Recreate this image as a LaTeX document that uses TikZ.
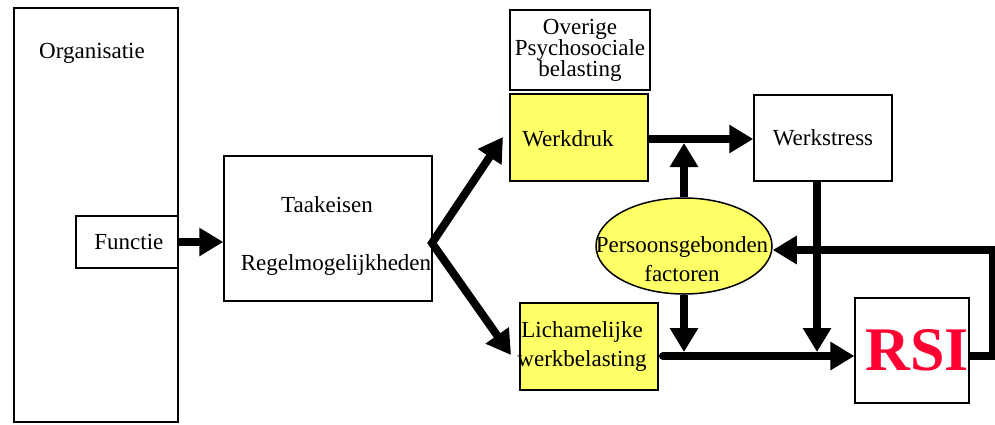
\documentclass[tikz,border=0pt]{standalone}
\usepackage{fontspec}
\setmainfont{Liberation Serif}
\usetikzlibrary{arrows.meta,shapes.geometric,calc}

\definecolor{geel}{RGB}{255,255,102}
\definecolor{rsirood}{RGB}{255,0,51}

\tikzset{
  kader/.style={draw, line width=1.5pt, inner sep=0pt, align=center},
  geelkader/.style={kader, fill=geel},
  pijl/.style={line width=8pt, -{Triangle[width=27pt,length=24pt]}},
}

\begin{document}
\begin{tikzpicture}[x=1pt,y=-1pt,font=\fontsize{23}{27}\selectfont]
    \useasboundingbox (0,0) rectangle (995,424);

    % organisatie met functie
    \node [kader, minimum width=164, minimum height=414] (org) at (96,215) {};
    \node (orgtekst) at (92,53) {Organisatie};
    \node [kader, fill=white, minimum width=102, minimum height=52] (func) at (127,242) {\,Functie};

    % taakeisen
    \node [kader, minimum width=208, minimum height=145] (taak) at (328,228.5) {};
    \node (taaktekst1) at (327,205) {Taakeisen};
    \node (taaktekst2) at (336,265) {Regelmogelijkheden};

    % belasting
    \node [kader, minimum width=140, minimum height=80, font=\fontsize{23}{21}\selectfont]
        (overig) at (580,50) {Overige\\Psychosociale\\belasting};
    \node [geelkader, minimum width=138, minimum height=87] (werk) at (579,137.5) {};
    \node (werktekst) at (568,139) {Werkdruk};
    \node [geelkader, minimum width=138, minimum height=87, font=\fontsize{23}{29}\selectfont]
        (lich) at (589,346.5) {\hspace*{-14pt}Lichamelijke\\\hspace*{-14pt}werkbelasting};

    % persoon
    \node [draw, ellipse, fill=geel, line width=1.5pt, minimum width=176, minimum height=96, inner sep=0pt]
        (pers) at (684,246) {};
    \node [align=center, font=\fontsize{23}{29}\selectfont] (perstekst) at (682,259) {Persoonsgebonden\\factoren};

    % uitkomst
    \node [kader, minimum width=138, minimum height=86] (stress) at (823,138) {Werkstress};
    \node [kader, minimum width=112, minimum height=105, text=rsirood,
           font=\fontsize{62}{62}\selectfont\bfseries] (rsi) at (912,350.5) {\,RSI};

    \coordinate (splits) at (432,243);
    \coordinate (boven) at (503,137);
    \coordinate (onder) at (511,355);
    \coordinate (lijnstart) at (663,356);
    \coordinate (terug) at (993,250);

    % pijlen
    \draw [pijl] (func.east) -- (func.east -| taak.west);
    \draw [pijl, {Triangle[width=27pt,length=24pt]}-{Triangle[width=27pt,length=24pt]}, line join=miter]
        (boven) -- (splits) -- (onder);
    \draw [pijl] (werk.east |- 0,139) -- (stress.west |- 0,139);
    \draw [pijl] (pers.north) -- (pers.north |- 0,143);
    \draw [pijl] (pers.south) -- (pers.south |- 0,352);
    \draw [pijl, line cap=round] (lijnstart) -- (rsi.west |- lijnstart);
    \draw [pijl] (817,181) -- (817,352);
    \draw [pijl] (rsi.east |- lijnstart) -| (terug) -- (pers.east |- terug);
\end{tikzpicture}
\end{document}
